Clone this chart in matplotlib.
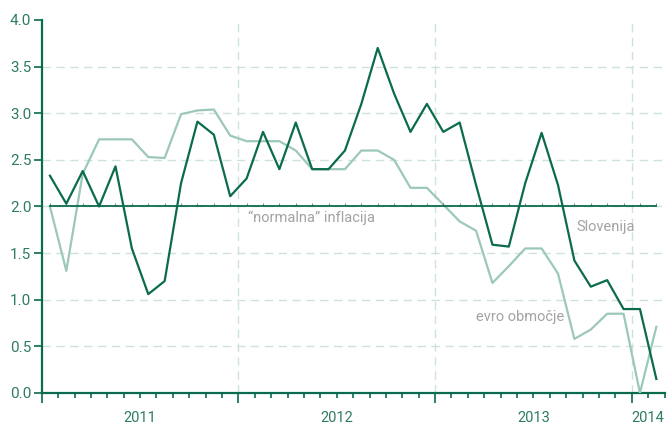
import numpy as np
import matplotlib
matplotlib.use('Agg')
import matplotlib.pyplot as plt
from matplotlib.ticker import FixedLocator, FuncFormatter

# monthly inflation, Jan 2011 - Feb 2014
slovenija = [2.33, 2.03, 2.38, 2.00, 2.43, 1.55, 1.06, 1.20, 2.25, 2.91, 2.77, 2.11,
             2.30, 2.80, 2.40, 2.90, 2.40, 2.40, 2.60, 3.10, 3.70, 3.21, 2.80, 3.10,
             2.80, 2.90, 2.23, 1.59, 1.57, 2.25, 2.79, 2.23, 1.42, 1.14, 1.21, 0.90,
             0.90, 0.15]
evro = [2.00, 1.31, 2.35, 2.72, 2.72, 2.72, 2.53, 2.52, 2.99, 3.03, 3.04, 2.76,
        2.70, 2.70, 2.70, 2.60, 2.40, 2.40, 2.40, 2.60, 2.60, 2.50, 2.20, 2.20,
        2.02, 1.84, 1.74, 1.18, 1.36, 1.55, 1.55, 1.28, 0.58, 0.68, 0.85, 0.85,
        0.00, 0.71]
normalna = [2.0] * len(slovenija)
years = {6: '2011', 18: '2012', 30: '2013', 37: '2014'}
y_ticks = [0.0, 0.5, 1.0, 1.5, 2.0, 2.5, 3.0, 3.5, 4.0]

dark = '#0b6b4f'
light = '#9cc8b7'
label_col = '#2e7c62'
grid_col = '#cde2da'
note_col = '#a3a3a3'

plt.rcParams['font.family'] = ['Roboto', 'DejaVu Sans']

x = np.arange(len(slovenija)) + 0.5

fig = plt.figure(figsize=(6.72, 4.26), dpi=100)
ax = fig.add_axes([0.0621, 0.0775, 0.9268, 0.8756])

ax.plot(x, evro, color=light, lw=1.6, zorder=3)
ax.plot(x, normalna, color=dark, lw=1.3, marker=2, ms=2.0, mew=0.5, zorder=4)
ax.plot(x, slovenija, color=dark, lw=1.6, zorder=5)

ax.set_xlim(0, len(slovenija))
ax.set_ylim(0, 4.0)

ax.xaxis.set_major_locator(FixedLocator([0, 12, 24, 36]))
ax.xaxis.set_major_formatter(FuncFormatter(lambda v, p: ''))
minor = [m for m in range(1, len(slovenija) + 1) if m % 12 != 0]
ax.xaxis.set_minor_locator(FixedLocator(minor))
ax.xaxis.set_minor_formatter(FuncFormatter(lambda v, p: years.get(int(round(v)), '')))
ax.tick_params(axis='x', which='major', direction='out', length=7.5, width=1.2, color=dark)
ax.tick_params(axis='x', which='minor', direction='out', length=3.8, width=1.2, color=dark,
               pad=9, labelsize=10.5, labelcolor=label_col)

ax.set_yticks(y_ticks)
ax.set_yticklabels([f'{v:.1f}' for v in y_ticks])
ax.tick_params(axis='y', direction='out', length=5.5, width=1.2, color=dark, pad=2,
               labelsize=11, labelcolor=label_col)

ax.grid(axis='y', color=grid_col, ls=(0, (6, 4)), lw=1.0, zorder=1)
ax.grid(axis='x', which='major', color=grid_col, ls=(0, (6, 4)), lw=1.0, zorder=1)
ygl = ax.yaxis.get_gridlines()
ygl[0].set_visible(False)
ygl[-1].set_visible(False)
ax.xaxis.get_gridlines()[0].set_visible(False)

for s in ['top', 'right']:
    ax.spines[s].set_visible(False)
for s in ['left', 'bottom']:
    ax.spines[s].set_color(dark)
    ax.spines[s].set_linewidth(1.6)

ax.text(12.58, 1.877, '\u201cnormalna\u201d inflacija', color=note_col, fontsize=10.5,
        ha='left', va='center')
ax.text(32.64, 1.78, 'Slovenija', color=note_col, fontsize=10.5,
        ha='left', va='center')
ax.text(26.48, 0.815, 'evro obmo\u010dje', color=note_col, fontsize=10.5,
        ha='left', va='center')

fig.savefig('out.png', dpi=100)
